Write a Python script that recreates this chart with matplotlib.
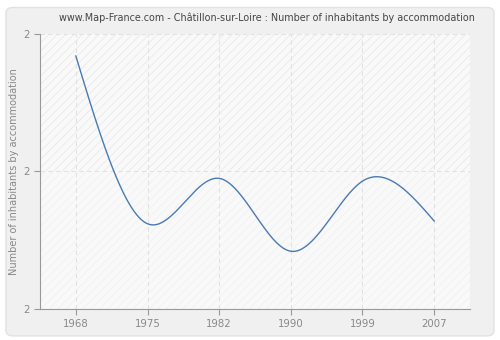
import matplotlib
matplotlib.use('Agg')
import matplotlib.pyplot as plt
import matplotlib.ticker as tck
from matplotlib.patches import FancyBboxPatch, Rectangle
import numpy as np

matplotlib.rcParams['hatch.linewidth'] = 0.5

years = ['1968', '1975', '1982', '1990', '1999', '2007']
values = [2.084, 1.962, 1.995, 1.942, 1.993, 1.964]
ymin, ymax = 1.9, 2.1
yticks = [1.9, 2.0, 2.1]

title = "www.Map-France.com - Châtillon-sur-Loire : Number of inhabitants by accommodation"
ylabel = "Number of inhabitants by accommodation"


def natural_spline(x, y, n=400):
    # plain natural cubic spline, solved as a small linear system
    x = np.asarray(x, float)
    y = np.asarray(y, float)
    k = len(x)
    h = np.diff(x)
    A = np.zeros((k, k))
    b = np.zeros(k)
    A[0, 0] = A[-1, -1] = 1
    for i in range(1, k - 1):
        A[i, i - 1] = h[i - 1]
        A[i, i] = 2 * (h[i - 1] + h[i])
        A[i, i + 1] = h[i]
        b[i] = 3 * ((y[i + 1] - y[i]) / h[i] - (y[i] - y[i - 1]) / h[i - 1])
    c = np.linalg.solve(A, b)
    xs = np.linspace(x[0], x[-1], n)
    ys = np.empty_like(xs)
    for j, xv in enumerate(xs):
        i = min(np.searchsorted(x, xv, side='right') - 1, k - 2)
        d = (c[i + 1] - c[i]) / (3 * h[i])
        bb = (y[i + 1] - y[i]) / h[i] - h[i] * (2 * c[i] + c[i + 1]) / 3
        t = xv - x[i]
        ys[j] = y[i] + bb * t + c[i] * t ** 2 + d * t ** 3
    return xs, ys


fig = plt.figure(figsize=(5, 3.4), dpi=100)
fig.patch.set_facecolor('white')
fig.patches.append(FancyBboxPatch((0.012, 0.012), 0.976, 0.966, boxstyle='round,pad=0,rounding_size=0.015',
                                  transform=fig.transFigure, facecolor='#f0f0f0', edgecolor='#e2e2e2',
                                  linewidth=1, zorder=-5))

ax = fig.add_axes([0.08, 0.0912, 0.86, 0.8088])
ax.set_zorder(2)
ax.set_facecolor('#f9f9f9')
xpos = np.arange(len(years))

# hatched background, a bit stronger in the upper half
ax.add_patch(Rectangle((-0.5, 2.0), 6, 0.1, facecolor='none', edgecolor='#e6e6e6',
                       hatch='////', linewidth=0, zorder=0))
ax.add_patch(Rectangle((-0.5, 1.9), 6, 0.1, facecolor='none', edgecolor='#f0f0f0',
                       hatch='////', linewidth=0, zorder=0))

xs, ys = natural_spline(xpos, values)
ax.plot(xs, ys, color='#4a7ab5', linewidth=1, zorder=3)

ax.set_xlim(-0.5, 5.5)
ax.set_ylim(ymin, ymax)
ax.set_xticks(xpos)
ax.set_xticklabels(years)
ax.set_yticks(yticks)
ax.yaxis.set_major_formatter(tck.FormatStrFormatter('%.0f'))

ax.grid(True, color='#e2e2e2', linestyle=(0, (4, 3)), linewidth=0.8)
ax.set_axisbelow(True)
for s in ['top', 'right']:
    ax.spines[s].set_visible(False)
for s in ['left', 'bottom']:
    ax.spines[s].set_color('#999999')
ax.tick_params(colors='#999999', labelcolor='#888888', labelsize=7.3, length=4, width=0.8)

ax.set_ylabel(ylabel, color='#888888', fontsize=7, labelpad=3)
fig.text(0.533, 0.948, title, ha='center', va='center', fontsize=6.9, color='#444444')

plt.savefig('out.png', dpi=100)
